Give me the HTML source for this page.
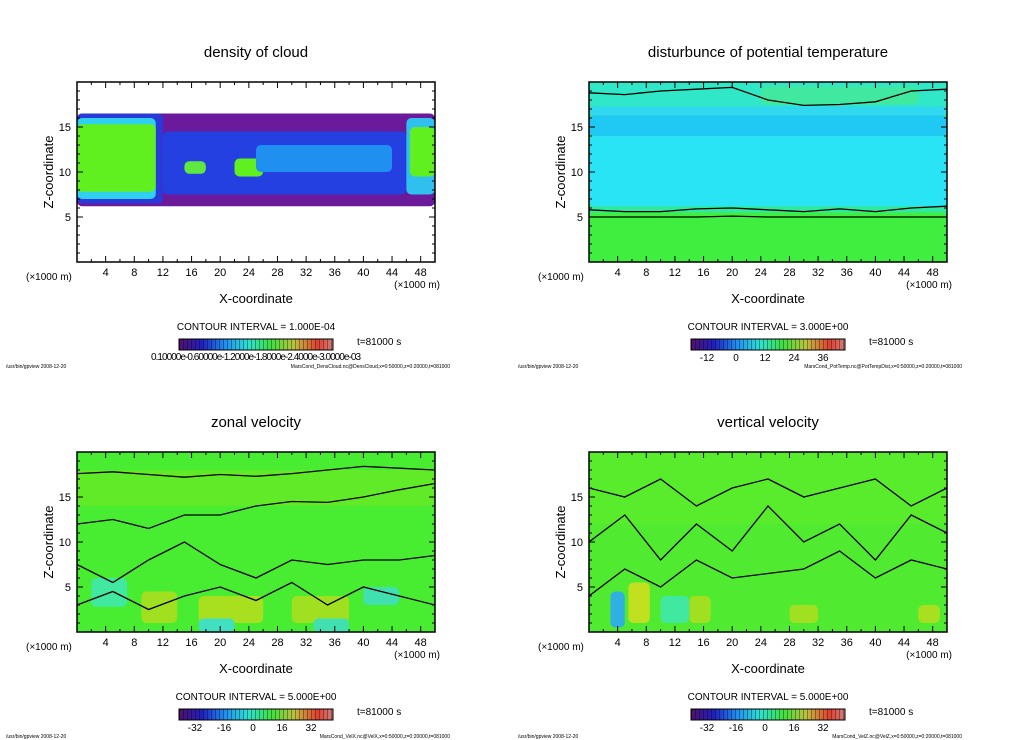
<!DOCTYPE html>
<html><head><meta charset="utf-8">
<style>
body{margin:0;background:#fff;width:1024px;height:740px;overflow:hidden;font-family:"Liberation Sans",sans-serif}
svg{display:block}
text{font-family:"Liberation Sans",sans-serif;fill:#000}
</style></head>
<body>
<svg id="fig" width="1024" height="740" viewBox="0 0 1024 740">
<defs>
<linearGradient id="cb" x1="0" x2="1">
<stop offset="0" stop-color="#50106a"/><stop offset="0.15" stop-color="#2020c0"/><stop offset="0.3" stop-color="#2090f0"/>
<stop offset="0.45" stop-color="#30e0d0"/><stop offset="0.6" stop-color="#40e040"/><stop offset="0.75" stop-color="#c0c040"/>
<stop offset="0.9" stop-color="#e04030"/><stop offset="1" stop-color="#d08080"/></linearGradient>
<pattern id="stripes" width="4" height="10" patternUnits="userSpaceOnUse"><rect x="3" width="1" height="10" fill="rgba(0,0,0,0.35)"/></pattern>
</defs>
</svg>
<script>
const xTicks=[4,8,12,16,20,24,28,32,36,40,44,48];
const zTicks=[5,10,15];
const titles=["density of cloud","disturbunce of potential temperature","zonal velocity","vertical velocity"];
const intervals=["CONTOUR INTERVAL = 1.000E-04","CONTOUR INTERVAL = 3.000E+00","CONTOUR INTERVAL = 5.000E+00","CONTOUR INTERVAL = 5.000E+00"];
const cbLabels=[["0.10000e-03 0.6000e-03 1.2000e-03 1.8000e-03 2.4000e-03 3.0000e-03"],["-12","0","12","24","36"],["-32","-16","0","16","32"],["-32","-16","0","16","32"]];
const footers=["MarsCond_DensCloud.nc@DensCloud,x=0:50000,z=0:20000,t=081000","MarsCond_PotTemp.nc@PotTempDist,x=0:50000,z=0:20000,t=081000","MarsCond_VelX.nc@VelX,x=0:50000,z=0:20000,t=081000","MarsCond_VelZ.nc@VelZ,x=0:50000,z=0:20000,t=081000"];
// regions: [x1,x2,z1,z2,color]
const regions0=[[0,50,0,20,"#ffffff"],[0,50,6.2,16.5,"#6a1a9a"],[0,12,6.5,16.5,"#2a3ad8"],[12,46,7.5,14.5,"#2440e0"],[0,11,7,16,"#30d0f0"],[0,11,7.8,15.3,"#60f020"],[46,50,7.5,16,"#30c0f0"],[46.5,50,9.5,15,"#60f020"],[22,26,9.5,11.5,"#60f020"],[15,18,9.8,11.2,"#60e840"],[25,44,10,13,"#2090f0"]];
const regions1=[[0,50,0,20,"#30ec90"],[0,50,0,5.5,"#40ee40"],[0,50,5.5,6.2,"#30e8a0"],[0,50,6.2,14,"#28e4f4"],[0,50,14,16.3,"#20c8f4"],[0,50,16.3,17.3,"#30d8f0"],[0,50,17.3,20,"#30e8c8"],[24,46,17.5,19.5,"#40e8a0"]];
const regions2=[[0,50,0,20,"#48ec30"],[2,7,2.8,6,"#40e8a0"],[9,14,1,4.5,"#a0e020"],[17,26,1,4,"#a8e020"],[30,38,1,4,"#a0e020"],[17,22,0,1.5,"#40e0c0"],[33,38,0,1.5,"#40e0b0"],[40,45,3,5,"#40e0b0"],[0,50,14,18,"#60ea28"]];
const regions3=[[0,50,0,20,"#50ea30"],[3,5,0.5,4.5,"#30b0e0"],[5.5,8.5,1,5.5,"#c0e020"],[14,17,1,4,"#a0e020"],[28,32,1,3,"#a0e020"],[46,49,1,3,"#a8e020"],[10,14,1,4,"#40e8a0"],[0,50,12,20,"#58ec2c"]];
// contour lines: z value at x samples
const cX=[0,5,10,15,20,25,30,35,40,45,50];
const lines1=[[18.8,18.6,19,19.2,19.4,18,17.4,17.5,17.8,19,19.2],[5.8,5.6,5.6,5.9,6,5.8,5.6,5.9,5.6,6,6.2],[5,5,5,5,5.1,5,5,5,5,5,5]];
const lines2=[[17.6,17.8,17.5,17.2,17.5,17.3,17.6,18,18.4,18.2,18],[12,12.5,11.5,13,13,14,14.5,14.4,15,15.8,16.5],[7.5,5.5,8,10,7.5,6,8,7.5,8,8,8.5],[3,4.5,2.5,4,5,3.5,5.5,3,5,4,3]];
const lines3=[[16,15,17,14,16,17,15,16,17,14,16],[10,13,8,12,9,14,10,12,8,13,11],[4,7,5,8,6,6.5,7,9,6,8,7]];
const regs=[regions0,regions1,regions2,regions3];
const lns=[[],lines1,lines2,lines3];
const S=document.getElementById('fig');
const NS='http://www.w3.org/2000/svg';
function mk(tag,at,par){const e=document.createElementNS(NS,tag);for(const k in at)e.setAttribute(k,at[k]);(par||S).appendChild(e);return e;}
function txt(s,x,y,sz,anchor,par){const t=mk('text',{x:x,y:y,'font-size':sz,'text-anchor':anchor||'middle'},par);t.textContent=s;return t;}
[[0,0],[512,0],[0,370],[512,370]].forEach((o,i)=>{
  const ox=o[0],oy=o[1],x0=77+ox,y0=82+oy,w=358,h=180;
  const xs=v=>x0+v/50*w, ys=z=>y0+h-z/20*h;
  const g=mk('g',{});
  
  
  const tt=txt(titles[i],256+ox,57+oy,15,'middle',g);
  
  
  const clip=mk('clipPath',{id:'c'+i},g);mk('rect',{x:x0,y:y0,width:w,height:h},clip);
  const fg=mk('g',{'clip-path':'url(#c'+i+')'},g);
  regs[i].forEach((r,k)=>{
    const re=mk('rect',{x:xs(r[0]),y:ys(r[3]),width:xs(r[1])-xs(r[0]),height:ys(r[2])-ys(r[3]),fill:r[4],rx:k?5:0},fg);
    
    
  });
  lns[i].forEach(l=>{
    const p=mk('polyline',{points:cX.map((x,k)=>xs(x)+','+ys(l[k])).join(' '),fill:'none',stroke:'#000','stroke-width':1.3},fg);
    
    
  });
  const fr=mk('rect',{x:x0,y:y0,width:w,height:h,fill:'none',stroke:'#000','stroke-width':1.5},g);
  
  
  for(let v=2;v<50;v+=2){const L=v%4==0?6:3;mk('line',{x1:xs(v),x2:xs(v),y1:y0+h,y2:y0+h-L,stroke:'#000'},g);mk('line',{x1:xs(v),x2:xs(v),y1:y0,y2:y0+L,stroke:'#000'},g);}
  for(let z=1;z<20;z++){const L=z%5==0?6:3;mk('line',{x1:x0,x2:x0+L,y1:ys(z),y2:ys(z),stroke:'#000'},g);mk('line',{x1:x0+w,x2:x0+w-L,y1:ys(z),y2:ys(z),stroke:'#000'},g);}
  xTicks.forEach(v=>{const t=txt(v,xs(v),y0+h+14,11,'middle',g);});
  zTicks.forEach(z=>{const t=txt(z,x0-6,ys(z)+4,11,'end',g);});
  txt('(×1000 m)',26+ox,y0+h+18,10,'start',g);
  txt('(×1000 m)',x0+w+5,y0+h+26,10,'end',g);
  const xl=txt('X-coordinate',256+ox,303+oy,13,'middle',g);
  
  const yl=txt('Z-coordinate',0,0,13,'middle',g);yl.setAttribute('transform','translate('+(53+ox)+','+(172+oy)+') rotate(-90)');
  
  txt(intervals[i],256+ox,330+oy,10,'middle',g);
  const cb=mk('rect',{x:179+ox,y:339+oy,width:154,height:11,fill:'url(#cb)',stroke:'#000'},g);
  
  mk('rect',{x:179+ox,y:339+oy,width:154,height:11,fill:'url(#stripes)'},g);
  txt('t=81000 s',357+ox,345+oy,10,'start',g).setAttribute('fill','#666');
  const lab=cbLabels[i];
  if(lab.length==1){txt('0.10000e-0.60000e-1.2000e-1.8000e-2.4000e-3.0000e-03',256+ox,360+oy,10,'middle',g).setAttribute('textLength','210');}
  else lab.forEach((s,k)=>txt(s,185+ox+k*29+10,361+oy,10,'middle',g));
  txt('/usr/bin/gpview   2008-12-20',6+ox,368+oy,5,'start',g);
  txt(footers[i],450+ox,368+oy,5,'end',g);
});
</script>
</body></html>
